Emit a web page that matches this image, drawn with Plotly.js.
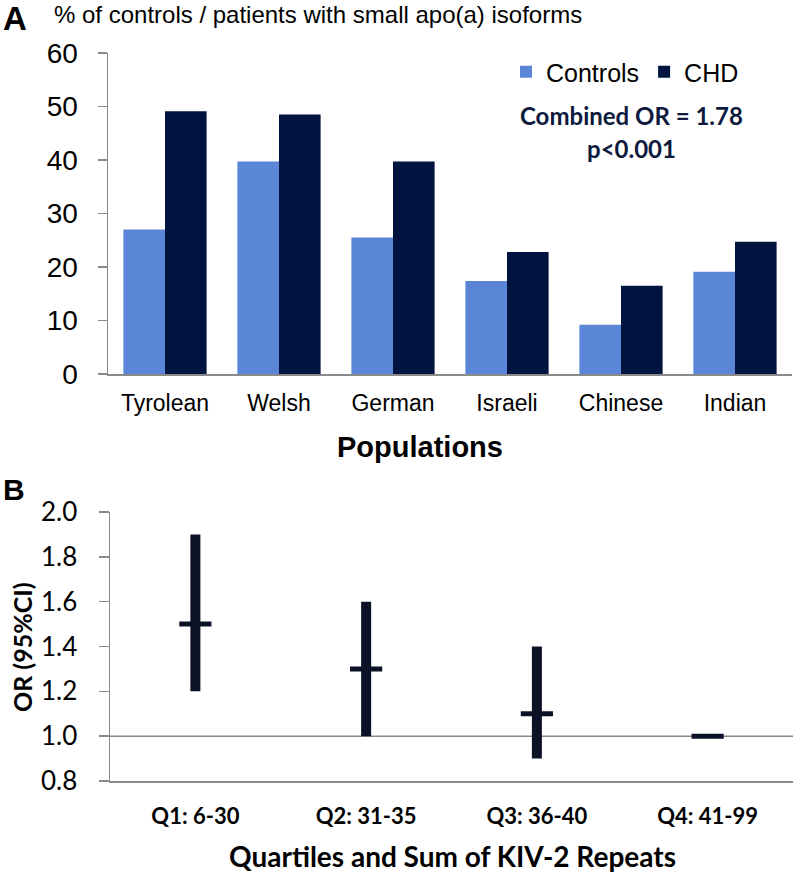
<!DOCTYPE html>
<html>
<head>
<meta charset="utf-8">
<script src="https://cdn.plot.ly/plotly-3.0.1.min.js"></script>
<style>html,body{margin:0;padding:0;background:#fff;}#chart{width:795px;height:875px;}</style>
</head>
<body>
<div id="chart"></div>
<script>
// Panel A data
const populations = ['Tyrolean', 'Welsh', 'German', 'Israeli', 'Chinese', 'Indian'];
const controlsPct = [27.0, 39.7, 25.5, 17.4, 9.2, 19.1];
const chdPct = [49.1, 48.5, 39.7, 22.8, 16.5, 24.7];

// Panel B data
const quartiles = ['Q1: 6-30', 'Q2: 31-35', 'Q3: 36-40', 'Q4: 41-99'];
const orValues = [1.5, 1.3, 1.1, 1.0];
const ciLower = [1.2, 1.0, 0.9, 1.0];
const ciUpper = [1.9, 1.6, 1.4, 1.0];

const W = 795, H = 875;
const px = v => v / W;
const py = v => 1 - v / H;

const axisGray = '#8a8a8a';
const ctrlColor = '#5b86d8';
const chdColor = '#01143f';
const ciColor = '#0b1226';

const traces = [
  {type: 'bar', name: 'Controls', x: populations, y: controlsPct,
   marker: {color: ctrlColor}, xaxis: 'x', yaxis: 'y', hoverinfo: 'none'},
  {type: 'bar', name: 'CHD', x: populations, y: chdPct,
   marker: {color: chdColor}, xaxis: 'x', yaxis: 'y', hoverinfo: 'none'},
  {type: 'scatter', mode: 'markers', x: quartiles, y: orValues,
   xaxis: 'x2', yaxis: 'y2', showlegend: false, hoverinfo: 'none',
   marker: {symbol: 'line-ew', size: 23, color: ciColor, line: {color: ciColor, width: 5}},
   error_y: {type: 'data', symmetric: false,
     array: ciUpper.map((u, i) => u - orValues[i]),
     arrayminus: ciLower.map((l, i) => orValues[i] - l),
     thickness: 10, width: 0, color: ciColor}}
];

const sansA = 'Liberation Sans, Arial, sans-serif';
const sansB = 'Lato, Open Sans, sans-serif';

function ann(text, x, y, font, extra) {
  return Object.assign({text: text, xref: 'paper', yref: 'paper', x: px(x), y: py(y),
    xanchor: 'center', yanchor: 'middle', showarrow: false, font: font}, extra || {});
}

const layout = {
  width: W, height: H,
  margin: {l: 0, r: 0, t: 0, b: 0},
  paper_bgcolor: '#fff', plot_bgcolor: 'rgba(0,0,0,0)',
  showlegend: true,
  bargap: 0.27, bargroupgap: 0,
  legend: {orientation: 'h', x: px(506), xanchor: 'left', y: py(72), yanchor: 'middle',
    font: {family: sansA, size: 25, color: '#000'}, bgcolor: 'rgba(0,0,0,0)', itemwidth: 30,
    traceorder: 'normal'},
  xaxis: {domain: [px(108), px(792)], anchor: 'y', type: 'category',
    showline: true, linecolor: axisGray, linewidth: 1.5, ticks: '', showgrid: false, zeroline: false,
    tickfont: {family: sansA, size: 23, color: '#000'}, ticklabelstandoff: 8, fixedrange: true},
  yaxis: {domain: [py(374), py(53)], anchor: 'x', range: [0, 60], dtick: 10,
    showline: true, linecolor: axisGray, linewidth: 1.5, ticks: 'outside', ticklen: 9, tickcolor: axisGray, tickwidth: 1.5,
    showgrid: false, zeroline: false,
    tickfont: {family: sansA, size: 28, color: '#000'}, ticklabelstandoff: 14, fixedrange: true},
  xaxis2: {domain: [px(110), px(793)], anchor: 'y2', type: 'category', range: [-0.5, 3.5],
    showline: true, linecolor: axisGray, linewidth: 1.5, ticks: '', showgrid: false, zeroline: false,
    tickfont: {family: sansB, size: 22, color: '#000', weight: 'bold'}, ticklabelstandoff: 15, fixedrange: true},
  yaxis2: {domain: [py(781), py(512)], anchor: 'x2', range: [0.8, 2.0], dtick: 0.2, tickformat: '.1f',
    showline: true, linecolor: axisGray, linewidth: 1.5, ticks: 'outside', ticklen: 10, tickcolor: axisGray, tickwidth: 1.5,
    showgrid: false, zeroline: false,
    tickfont: {family: sansB, size: 26, color: '#000'}, ticklabelstandoff: 16, fixedrange: true},
  shapes: [
    {type: 'line', xref: 'paper', yref: 'y2', x0: px(110), x1: px(793), y0: 1.0, y1: 1.0,
     line: {color: axisGray, width: 1.5}, layer: 'below'},
    {type: 'line', xref: 'paper', yref: 'y', x0: px(99), x1: px(108), y0: 0, y1: 0,
     line: {color: axisGray, width: 1.5}}
  ],
  annotations: [
    ann('% of controls / patients with small apo(a) isoforms', 52, 14,
        {family: sansA, size: 24, color: '#000'}, {xanchor: 'left'}),
    ann('<b>A</b>', 15, 18, {family: sansA, size: 33, color: '#000'}),
    ann('<b>B</b>', 14, 489, {family: sansA, size: 30, color: '#000'}),
    ann('<b>Combined OR = 1.78</b>', 631, 115, {family: sansB, size: 24, color: '#0d1a3d'}),
    ann('<b>p<0.001</b>', 631, 148, {family: sansB, size: 24, color: '#0d1a3d'}),
    ann('<b>Populations</b>', 420, 447, {family: sansA, size: 29, color: '#000'}),
    ann('<b>Quartiles and Sum of KIV-2 Repeats</b>', 452, 856, {family: sansB, size: 28, color: '#000'}),
    ann('<b>OR (95%CI)</b>', 22, 647, {family: sansB, size: 25, color: '#000'}, {textangle: -90})
  ]
};

Plotly.newPlot('chart', traces, layout, {displayModeBar: false, staticPlot: true});
</script>
</body>
</html>
